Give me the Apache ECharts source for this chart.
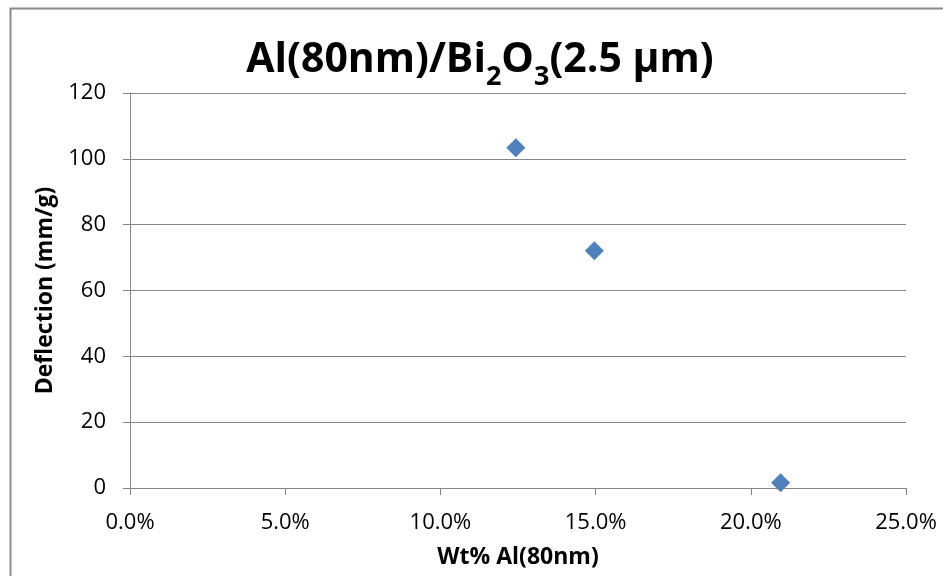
<!DOCTYPE html>
<html><head><meta charset="utf-8">
<script src="https://cdn.jsdelivr.net/npm/echarts@6/dist/echarts.min.js"></script>
<style>html,body{margin:0;padding:0;background:#fff}#c{width:943px;height:576px}</style>
</head><body><div id="c"></div>
<script>
// Data
const wtPercentAl = [12.43, 14.96, 20.96];      // Wt% Al(80nm)
const deflection = [103.4, 72.1, 1.6];          // mm/g
const xTicks = [0, 5, 10, 15, 20, 25];
const yTicks = [0, 20, 40, 60, 80, 100, 120];

const points = wtPercentAl.map((x, i) => [x, deflection[i]]);
const chart = echarts.init(document.getElementById('c'), null, {renderer: 'canvas'});
const F = '"Open Sans", "DejaVu Sans", sans-serif';
chart.setOption({
  animation: false,
  backgroundColor: '#fff',
  graphic: [{
    type: 'rect', left: 8, top: 6, silent: true,
    shape: {width: 1000, height: 1000},
    style: {fill: 'none', stroke: '#8a8a8a', lineWidth: 2}
  }],
  title: {
    text: '{n|Al(80nm)/Bi}{s|2}{n|O}{s|3}{n|(2.5 μm)}',
    left: 475, top: 31, textAlign: 'center',
    textStyle: {
      rich: {
        n: {fontFamily: F, fontWeight: 'bold', fontSize: 41, color: '#000', lineHeight: 48},
        s: {fontFamily: F, fontWeight: 'bold', fontSize: 27, color: '#000', lineHeight: 48, padding: [34, 0, 0, 0]}
      }
    }
  },
  grid: {left: 130, right: 37, top: 93, bottom: 88, containLabel: false},
  xAxis: {
    type: 'value', min: xTicks[0], max: xTicks[xTicks.length - 1], interval: 5,
    name: 'Wt% Al(80nm)', nameLocation: 'middle', nameGap: 58,
    nameTextStyle: {fontFamily: F, fontWeight: 'bold', fontSize: 23, color: '#000'},
    axisLine: {lineStyle: {color: '#868686', width: 1}},
    axisTick: {show: true, length: 7, lineStyle: {color: '#868686'}},
    axisLabel: {fontFamily: F, fontSize: 22, color: '#000', margin: 24,
      formatter: v => v.toFixed(1) + '%'},
    splitLine: {show: false}
  },
  yAxis: {
    type: 'value', min: yTicks[0], max: yTicks[yTicks.length - 1], interval: 20,
    name: 'Deflection (mm/g)', nameLocation: 'middle', nameGap: 70, nameRotate: 90,
    nameTextStyle: {fontFamily: F, fontWeight: 'bold', fontSize: 23, color: '#000'},
    axisLine: {show: true, lineStyle: {color: '#868686', width: 1}},
    axisTick: {show: true, length: 7, lineStyle: {color: '#868686'}},
    axisLabel: {fontFamily: F, fontSize: 22, color: '#000', margin: 24},
    splitLine: {show: true, lineStyle: {color: '#868686', width: 1}}
  },
  series: [{
    type: 'scatter', data: points, symbol: 'diamond', symbolSize: 19,
    itemStyle: {color: '#4f81bd', opacity: 1}
  }]
});
</script></body></html>
